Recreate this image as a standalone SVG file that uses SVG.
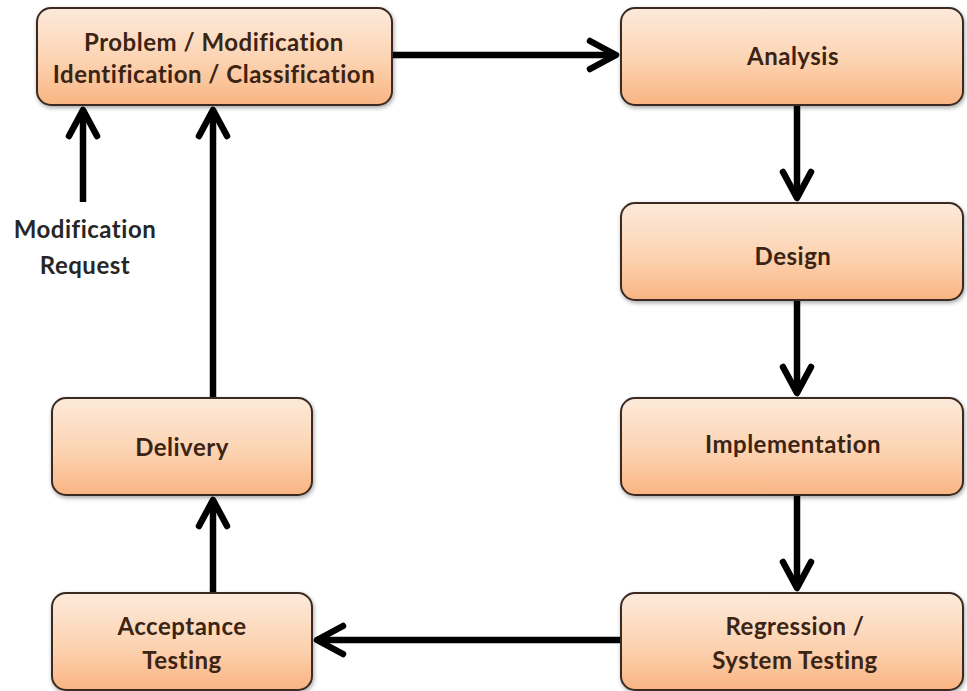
<svg xmlns="http://www.w3.org/2000/svg" width="967" height="691" viewBox="0 0 967 691">
  <defs>
    <linearGradient id="boxFill" x1="0" y1="0" x2="0" y2="1">
      <stop offset="0" stop-color="#fdeadb"/>
      <stop offset="0.55" stop-color="#fcd3b1"/>
      <stop offset="1" stop-color="#f9b482"/>
    </linearGradient>
    <filter id="shadow" x="-5%" y="-5%" width="110%" height="120%">
      <feDropShadow dx="1" dy="2" stdDeviation="2" flood-color="#000" flood-opacity="0.35"/>
    </filter>
    <!-- open chevron arrowhead, tip at the line end -->
    <marker id="head" viewBox="-32 -20 40 40" refX="0" refY="0" markerWidth="40" markerHeight="40" markerUnits="userSpaceOnUse" orient="auto" overflow="visible">
      <path d="M -26 -14 L 0 0 L -26 14" fill="none" stroke="#000" stroke-width="6.5" stroke-linecap="round" stroke-linejoin="round"/>
    </marker>
  </defs>
  <style>
    .box { fill: url(#boxFill); stroke: #3a2a20; stroke-width: 2; filter: url(#shadow); }
    .lbl { font-family: Lato, "Open Sans", "Liberation Sans", sans-serif; font-weight: bold; font-size: 24px; letter-spacing: 0.5px; fill: #3b2414; text-anchor: middle; }
    .free { fill: #262626; }
    .conn { fill: none; stroke: #000; stroke-width: 6.5; marker-end: url(#head); }
  </style>
  <rect width="967" height="691" fill="#fff"/>

  <g id="connectors">
    <line class="conn" x1="392" y1="55" x2="616" y2="55"/>
    <line class="conn" x1="797" y1="105" x2="797" y2="198"/>
    <line class="conn" x1="797" y1="300" x2="797" y2="393"/>
    <line class="conn" x1="797" y1="495" x2="797" y2="588"/>
    <line class="conn" x1="621" y1="640" x2="317" y2="640"/>
    <line class="conn" x1="213" y1="593" x2="213" y2="500"/>
    <line class="conn" x1="213" y1="398" x2="213" y2="110"/>
    <line class="conn" x1="83" y1="202" x2="83" y2="110"/>
  </g>

  <g id="problem">
    <rect class="box" x="37" y="8" width="355" height="97" rx="14"/>
    <text class="lbl" x="214" y="51">Problem / Modification</text>
    <text class="lbl" x="214" y="83">Identification / Classification</text>
  </g>
  <g id="analysis">
    <rect class="box" x="621" y="8" width="342" height="97" rx="14"/>
    <text class="lbl" x="793" y="65">Analysis</text>
  </g>
  <g id="design">
    <rect class="box" x="621" y="203" width="342" height="97" rx="14"/>
    <text class="lbl" x="793" y="265">Design</text>
  </g>
  <g id="implementation">
    <rect class="box" x="621" y="398" width="342" height="97" rx="14"/>
    <text class="lbl" x="793" y="453">Implementation</text>
  </g>
  <g id="regression">
    <rect class="box" x="621" y="593" width="342" height="97" rx="14"/>
    <text class="lbl" x="795" y="635">Regression /</text>
    <text class="lbl" x="795" y="669">System Testing</text>
  </g>
  <g id="acceptance">
    <rect class="box" x="52" y="593" width="260" height="97" rx="14"/>
    <text class="lbl" x="182" y="635">Acceptance</text>
    <text class="lbl" x="182" y="669">Testing</text>
  </g>
  <g id="delivery">
    <rect class="box" x="52" y="398" width="260" height="97" rx="14"/>
    <text class="lbl" x="182" y="456">Delivery</text>
  </g>
  <g id="modification-request">
    <text class="lbl free" x="85" y="238">Modification</text>
    <text class="lbl free" x="85" y="274">Request</text>
  </g>
</svg>
